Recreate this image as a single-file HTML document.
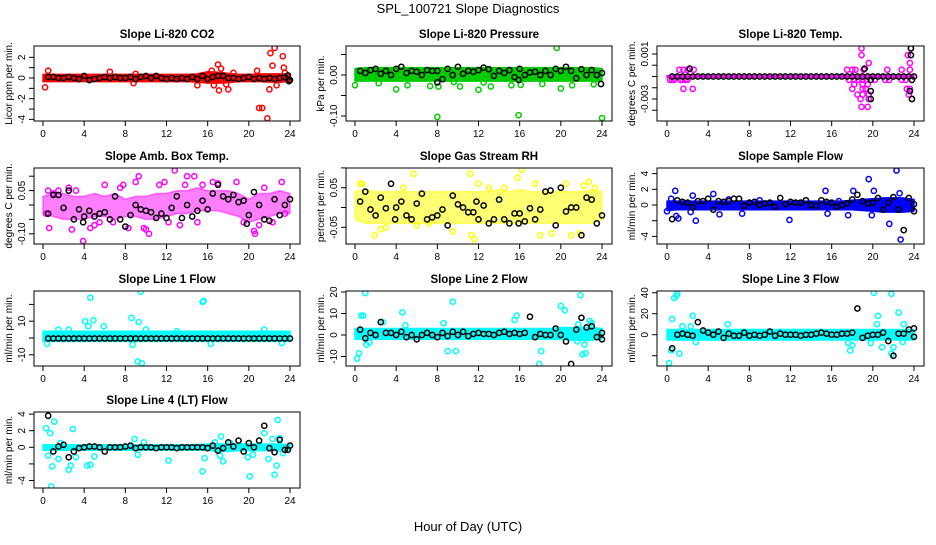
<!DOCTYPE html>
<html><head><meta charset="utf-8"><style>
body{margin:0;background:#fff;}
svg text{font-family:"Liberation Sans",sans-serif;}
</style></head><body>
<svg id="c" width="936" height="540" viewBox="0 0 936 540" xmlns="http://www.w3.org/2000/svg">
<text x="468" y="13" text-anchor="middle" font-size="13">SPL_100721  Slope Diagnostics</text>
<text x="468" y="531" text-anchor="middle" font-size="13">Hour of Day (UTC)</text>
</svg>
<script>
// ---- shared data ----
const xTicks = [0,4,8,12,16,20,24];
const blkHours = [0.5,1,1.5,2,2.5,3,3.5,4,4.5,5,5.5,6,6.5,7,7.5,8,8.5,9,9.5,10,10.5,11,11.5,12,12.5,13,13.5,14,14.5,15,15.5,16,16.5,17,17.5,18,18.5,19,19.5,20,20.5,21,21.5,22,22.5,23,23.5,24];
const bandHours = [0,1,2,3,4,5,6,7,8,9,10,11,12,13,14,15,16,17,18,19,20,21,22,23,24];

// ---- panel 1: CO2 ----
const co2BandLo = [-0.35,-0.35,-0.35,-0.35,-0.35,-0.35,-0.35,-0.35,-0.35,-0.35,-0.35,-0.35,-0.35,-0.35,-0.35,-0.4,-0.5,-0.5,-0.45,-0.35,-0.35,-0.35,-0.4,-0.4,-0.35];
const co2BandHi = [0.35,0.35,0.35,0.35,0.35,0.35,0.35,0.35,0.35,0.35,0.35,0.35,0.35,0.35,0.35,0.4,0.6,0.55,0.45,0.35,0.35,0.4,0.4,0.4,0.35];
const co2Out = [[0.2,-0.9],[0.5,0.7],[6.5,0.6],[8.8,-0.5],[9,0.4],[15,-0.7],[16.4,0.7],[16.6,-0.7],[17,1.3],[17.1,-1.2],[17.3,0.9],[17.8,-0.6],[18,-1.1],[18.5,0.5],[20.8,0.7],[21,-2.9],[21.3,-2.9],[21.8,-3.9],[22,-1.1],[22.1,2.4],[22.3,1.2],[22.5,2.9],[22.7,-0.7],[23.3,2.1],[23.4,1.0],[23.5,0.5]];
const co2Blk = [0.1,0.1,0,0,0.1,0,-0.1,0.2,-0.2,-0.1,0,0.1,0,0.1,0,0,0.1,-0.1,0.1,0.2,0,0.2,0,-0.1,0,-0.1,0,-0.1,0.1,-0.1,0.2,-0.1,0.1,0.2,0.2,0,0,-0.1,0,0.1,-0.1,0,-0.1,0,-0.1,0,0.1,-0.2];
const co2Extra = [[23.8,0.25],[23.9,-0.3]];

// ---- panel 2: Pressure ----
const presBandLo = [-0.015,-0.015,-0.015,-0.015,-0.015,-0.015,-0.015,-0.015,-0.015,-0.015,-0.015,-0.015,-0.015,-0.015,-0.015,-0.015,-0.015,-0.015,-0.015,-0.015,-0.015,-0.015,-0.015,-0.015,-0.015];
const presBandHi = [0.016,0.018,0.018,0.018,0.018,0.018,0.018,0.018,0.018,0.018,0.018,0.018,0.018,0.018,0.018,0.018,0.018,0.018,0.018,0.018,0.018,0.018,0.018,0.018,0.016];
const presOut = [[0,-0.025],[2.3,-0.02],[4,-0.035],[5.1,-0.025],[7.3,-0.027],[8,-0.102],[8.1,-0.028],[9.6,-0.017],[10.2,-0.028],[12,-0.036],[12.5,-0.018],[13.2,-0.028],[15.2,-0.025],[15.9,-0.098],[16.1,-0.024],[18.2,-0.022],[19.6,0.066],[20,-0.033],[21.1,-0.025],[23.2,-0.023],[24,-0.105]];
const presBlk = [0.01,0.005,0.012,0.015,0.003,0.01,0.0,0.015,0.02,0.005,0.01,0.008,0.0,0.012,0.01,0.01,-0.01,0.015,0.0,0.02,0.003,0.01,0.008,0.012,0.018,0.014,-0.002,0.01,0.005,0.012,-0.005,0.015,0.0,0.006,0.008,0.0,0.01,0.0,0.015,0.01,0.02,0.01,-0.008,0.014,0.0,0.012,0.0,0.005];
const presExtra = [[8,-0.018],[23.9,-0.022],[15.9,-0.012]];

// ---- panel 3: Temp ----
const tempBandLo = [-0.00108,-0.00108,-0.00108,-0.00108,-0.00108,-0.00108,-0.00108,-0.00108,-0.00108,-0.00108,-0.00108,-0.00108,-0.00108,-0.00108,-0.00108,-0.00108,-0.00108,-0.00108,-0.00108,-0.00108,-0.00108,-0.00108,-0.00108,-0.00108,-0.00108];
const tempBandHi = [-0.00092,-0.00092,-0.00092,-0.00092,-0.00092,-0.00092,-0.00092,-0.00092,-0.00092,-0.00092,-0.00092,-0.00092,-0.00092,-0.00092,-0.00092,-0.00092,-0.00092,-0.00092,-0.00092,-0.00092,-0.00092,-0.00092,-0.00092,-0.00092,-0.00092];
const tempOut = [[0.3,-0.0013],[0.5,-0.0013],[0.7,-0.0013],[1.3,-0.0013],[1.5,-0.0013],[1.8,-0.0013],[2.0,-0.0013],[1.2,-0.0004],[1.6,-0.0004],[2.0,-0.0004],[2.6,-0.0004],[1.6,-0.0021],[2.5,-0.0021],[17.5,-0.0004],[18,-0.0004],[18.3,-0.0004],[17.7,-0.0013],[18.2,-0.0013],[18.6,-0.0013],[19,-0.0013],[19.4,-0.0013],[18.2,-0.0017],[19,-0.0017],[19.5,-0.0017],[18.0,-0.0021],[19.0,-0.0021],[19.3,-0.0021],[18.5,-0.0026],[19,-0.0026],[19.6,-0.0026],[18.8,-0.0030],[19.6,-0.0030],[18.9,-0.0037],[19.5,-0.0037],[18.9,0.0015],[18.9,0.0009],[19.6,0.0002],[19.1,-0.0004],[20.2,-0.0013],[21.4,-0.0004],[21.2,-0.0013],[21.6,-0.0013],[22.8,-0.0013],[23.2,-0.0013],[23.3,-0.0021],[23.6,-0.0021],[23.5,-0.0026],[23.8,-0.0030],[23.4,0.0009],[23.6,0.0002],[23.6,-0.0004],[22.8,-0.0004],[23.7,0.0015]];
const tempBlk = [-0.001,-0.001,-0.001,-0.001,-0.001,-0.001,-0.001,-0.001,-0.001,-0.001,-0.001,-0.001,-0.001,-0.001,-0.001,-0.001,-0.001,-0.001,-0.001,-0.001,-0.001,-0.001,-0.001,-0.001,-0.001,-0.001,-0.001,-0.001,-0.001,-0.001,-0.001,-0.001,-0.001,-0.001,-0.001,-0.001,-0.001,-0.001,-0.001,-0.001,-0.001,-0.001,-0.001,-0.001,-0.001,-0.001,-0.001,-0.001];
const tempExtra = [[2.2,-0.0003],[18.7,-0.0052],[19.2,-0.0003],[19.8,-0.0013],[19.8,-0.0023],[19.8,-0.0030],[23.7,0.0015],[23.7,0.0009],[23.8,-0.0013],[23.6,-0.0023],[23.8,-0.003]];

// ---- panel 4: Amb box temp ----
const ambBandLo = [-0.03,-0.04,-0.05,-0.05,-0.05,-0.04,-0.04,-0.05,-0.04,-0.04,-0.05,-0.05,-0.04,-0.03,-0.03,-0.02,-0.02,-0.02,-0.03,-0.04,-0.06,-0.05,-0.04,-0.03,-0.03];
const ambBandHi = [0.03,0.04,0.04,0.03,0.03,0.04,0.03,0.04,0.02,0.03,0.03,0.04,0.04,0.05,0.05,0.06,0.05,0.05,0.05,0.04,0.02,0.04,0.04,0.05,0.04];
const ambOut = [[0.3,-0.03],[0.6,-0.08],[1,0.04],[2.8,-0.085],[3.2,0.05],[3.9,-0.125],[4.6,-0.08],[5,-0.07],[6,0.07],[6.8,-0.06],[7.8,0.07],[8.3,-0.08],[9,0.08],[9.3,0.1],[9.8,-0.08],[10,-0.085],[10.3,-0.1],[11.3,0.07],[11.8,0.08],[12.8,0.12],[13.3,-0.07],[13.8,0.07],[14,0.1],[14.7,0.1],[15.5,0.07],[16.5,0.08],[18.8,0.08],[20.5,-0.09],[20.6,-0.1],[21.5,0.06],[22.3,-0.06],[23.2,0.08],[23.5,-0.03],[0.5,0.05],[1.5,0.05],[2.5,0.06],[5.5,-0.06],[7.5,0.06],[12.2,-0.06],[15,-0.06],[17,0.075],[19.5,-0.06],[21,-0.07]];
const ambBlk = [-0.03,0.035,0.035,-0.01,0.05,-0.05,-0.015,-0.04,-0.02,-0.04,-0.03,-0.025,-0.05,0.03,-0.05,-0.075,-0.035,0.0,-0.015,-0.02,-0.025,-0.045,-0.03,-0.045,-0.01,0.03,-0.045,0.0,-0.04,-0.02,0.015,-0.015,0.04,0.07,0.03,0.02,0.035,0.01,0.015,-0.035,0.045,0.0,-0.05,-0.055,0.02,-0.035,0.0,0.02];
const ambExtra = [[3.9,-0.06],[19.8,-0.065]];

// ---- panel 5: Gas stream RH ----
const rhBandLo = [-0.03,-0.04,-0.04,-0.04,-0.04,-0.04,-0.04,-0.04,-0.04,-0.04,-0.04,-0.04,-0.04,-0.04,-0.04,-0.04,-0.04,-0.04,-0.04,-0.04,-0.04,-0.04,-0.04,-0.04,-0.03];
const rhBandHi = [0.04,0.045,0.04,0.04,0.04,0.04,0.04,0.04,0.04,0.04,0.04,0.04,0.04,0.04,0.045,0.04,0.045,0.04,0.04,0.04,0.04,0.04,0.04,0.045,0.04];
const rhOut = [[0.5,0.06],[0.7,0.06],[1.9,-0.07],[2.5,-0.055],[5.7,0.085],[4.7,0.05],[11.2,0.085],[11.3,-0.07],[11.6,-0.08],[12,0.06],[15.8,0.075],[16,-0.1],[16.2,0.095],[18,-0.07],[19.1,-0.065],[21,-0.07],[21.8,-0.065],[22.7,0.065],[22.2,0.055],[23.3,0.05],[14.5,0.05],[7.2,-0.04],[9.5,-0.06],[13,0.05],[20.5,0.06],[3,-0.05],[6,-0.045],[17.5,0.06]];
const rhBlk = [0.015,0.04,-0.005,-0.02,0.025,-0.002,0.06,0.0,0.015,-0.02,-0.03,0.01,0.035,-0.03,-0.025,-0.02,-0.005,-0.045,0.03,0.008,0.0,-0.012,-0.012,-0.03,0.005,-0.04,-0.03,0.02,-0.03,-0.04,-0.015,-0.015,-0.035,-0.002,-0.03,-0.005,0.04,0.043,-0.045,0.05,-0.01,0.0,0.0,-0.07,0.025,0.02,-0.04,-0.02];
const rhExtra = [[3.9,-0.03],[11.8,0.015],[15.9,-0.04]];

// ---- panel 6: Sample flow ----
const sfBandLo = [-0.7,-0.6,-0.6,-0.6,-0.6,-0.6,-0.6,-0.6,-0.6,-0.6,-0.6,-0.6,-0.6,-0.6,-0.6,-0.6,-0.6,-0.6,-0.6,-0.7,-0.8,-0.9,-0.9,-0.9,-0.8];
const sfBandHi = [0.5,0.5,0.5,0.5,0.5,0.5,0.5,0.5,0.5,0.5,0.5,0.5,0.5,0.5,0.5,0.5,0.5,0.5,0.6,0.7,0.8,0.9,0.9,0.9,0.7];
const sfOut = [[0,-0.8],[0.4,0.8],[0.8,1.8],[0.9,-1.4],[1.1,-1.7],[2.3,-0.9],[2.5,1.2],[2.8,-2.0],[4.5,1.4],[5.1,-1.2],[7.3,-1.1],[11.9,-1.9],[15.4,1.8],[15.6,-1.1],[17.6,-1.3],[18.1,1.8],[19.6,3.3],[19.9,-1.3],[20.1,1.8],[21.6,-2.4],[22.3,4.4],[22.6,1.5],[22.7,-4.4],[16.7,0.5],[9,0.6],[6,0.7]];
const sfBlk = [-1.8,0.6,0.4,0.3,-0.3,0.5,0.5,0.8,-0.6,0.5,0.4,0.5,0.8,0.8,-0.1,0.3,0.4,0,0.2,0.3,-0.2,0.9,0.1,0.4,0.3,0.3,0.6,0,-0.1,0.6,0.4,0.3,-0.2,0,0.2,0.7,1.3,0.5,0.2,0.3,0.9,-0.6,0.3,1.0,-0.6,-3.2,0.9,0.1];
const sfExtra = [[24,-0.8]];

// ---- panel 7: Line 1 flow ----
const l1BandLo = [-2,-2,-2,-2,-2,-2,-2,-2,-2,-2,-2,-2,-2,-2,-2,-2,-2,-2,-2,-2,-2,-2,-2,-2,-2];
const l1BandHi = [4,4,4,4,4,4,4,4,4,4,4,4,4,4,4,4,4,4,4,4,4,4,4,4,4];
const l1Out = [[0.4,-3.5],[4.1,10],[4.4,7],[4.6,24],[4.9,10.5],[5.9,7],[8.6,12],[8.7,-4],[9.2,-14],[9.3,9.5],[9.5,27.5],[9.6,-15],[15.5,21.5],[15.6,22],[16.3,-3.5],[13,4],[23.2,-3],[1.5,5],[2.5,5],[10,5],[21.5,5]];
const l1Blk = [-0.3,-0.3,-0.3,-0.3,-0.3,-0.3,-0.3,-0.3,-0.3,-0.3,-0.3,-0.3,-0.3,-0.3,-0.3,-0.3,-0.3,-0.3,-0.3,-0.3,-0.3,-0.3,-0.3,-0.3,-0.3,-0.3,-0.3,-0.3,-0.3,-0.3,-0.3,-0.3,-0.3,-0.3,-0.3,-0.3,-0.3,-0.3,-0.3,-0.3,-0.3,-0.3,-0.3,-0.3,-0.3,-0.3,-0.3,-0.3];
const l1Extra = [];

// ---- panel 8: Line 2 flow ----
const l2BandLo = [-2,-2,-2,-2,-2,-2,-2,-2,-2,-2,-2,-2,-2,-2,-2,-2,-2,-2,-2,-2,-2,-2.5,-2.5,-2.5,-2];
const l2BandHi = [3,3,3,3,3,3,3,3,3,3,3,3,3,3,3,3,3,3,3,3,3.5,3.5,3.5,3.5,3];
const l2Out = [[0.2,-11],[0.4,-8.5],[0.6,9],[0.8,9],[1,19.5],[1.1,-4.5],[1.4,-3.5],[2.7,6],[4.6,10.5],[4.9,4.5],[8.6,5.5],[9,-7.5],[9.5,15.5],[9.8,-7.5],[15.5,7],[15.7,9],[17.9,-13.5],[18.1,-7.5],[20,13.5],[20.4,11.5],[21.7,5],[21.9,18.5],[22.1,-9],[22.3,-4.5],[22.4,-8.5],[22.8,6.5],[23,5.5],[21.6,-3]];
const l2Blk = [2.5,-1.5,1,0,6,1,1,0,1.5,-1,0,-2,0,1,0,-1,1,-0.5,1.5,0,1.5,-0.5,0.5,1,0.5,0.5,0,1,1.5,0.5,1,0.5,1,8.5,-1,0.5,0,0,3,0,-3,-13.5,2.5,8,3.5,4,-1,1];
const l2Extra = [[24,-2]];

// ---- panel 9: Line 3 flow ----
const l3BandLo = [-5,-5,-5,-5,-5,-5,-5,-5,-5,-5,-5,-5,-5,-5,-5,-5,-5,-5,-5,-5,-5,-5,-5,-5,-5];
const l3BandHi = [5,5,5,5,5,5,5,5,5,5,5,5,5,5,5,5,5,5,5,5,5,5,5,5,5];
const l3Out = [[0.2,-27],[0.4,-15],[0.5,15],[0.7,35],[0.9,37],[1,39],[1.2,-18],[2.5,18],[2.8,-7],[5.9,10],[17.6,-8],[17.8,-15],[18,-10],[19.8,-8],[20.1,40],[20.4,10],[20.5,18],[20.9,-12],[21.8,39],[21.8,-18],[22,-12],[22.5,21],[22.9,-7],[23,10],[1.5,8],[2.3,8]];
const l3Blk = [-13,0,1,0,-1,12,4,2,0,3,-3,1,-1,-1,2,-1,0,-1,0,3,-1,1,0,0,0,-1,0,0,1,2,1,0,0,1,1,2,25,-3,-1,0,0,2,-6,-20,1,1,5,6];
const l3Extra = [[24,-2]];

// ---- panel 10: Line 4 flow ----
const l4BandLo = [-0.35,-0.35,-0.35,-0.35,-0.35,-0.35,-0.35,-0.35,-0.35,-0.35,-0.35,-0.35,-0.35,-0.35,-0.35,-0.35,-0.35,-0.5,-0.5,-0.4,-0.4,-0.4,-0.4,-0.4,-0.35];
const l4BandHi = [0.3,0.3,0.3,0.3,0.3,0.3,0.3,0.3,0.3,0.3,0.3,0.3,0.3,0.3,0.3,0.3,0.4,0.4,0.4,0.4,0.4,0.4,0.4,0.4,0.3];
const l4Out = [[0.3,2.3],[0.5,-1.0],[0.7,1.7],[0.8,-4.7],[0.9,-2.3],[1.1,3.1],[1.5,-1.4],[1.7,0.5],[2.5,-2.7],[2.7,-2.2],[2.9,2.2],[3.2,-1.2],[4.3,-2.2],[4.6,-2.1],[5,-1.1],[8.9,1.0],[9.2,-0.9],[9.8,0.6],[12.2,-1.6],[15.5,-2.9],[15.7,-1.3],[16.7,0.6],[17.2,-1.0],[17.3,1.3],[17.5,-1.7],[18.2,0.5],[19.9,-1.2],[20.1,-3.5],[20.4,-0.9],[21.5,1.7],[21.9,-1.4],[22.3,1.0],[22.5,-3.3],[22.7,-2.2],[22.8,3.3],[23,1.1],[23.3,-0.7]];
const l4Blk = [3.8,-0.5,0.1,0.3,-1.2,-0.5,-0.1,0,0.1,0.1,0,-0.5,0,0,0,0.1,0.2,-0.1,0,0,0,-0.1,0,0,0,-0.1,0,0,0,0,0,-0.1,0.2,-0.4,-0.1,0.6,0.1,0.8,-0.5,0.5,0,0.8,2.6,-0.1,-0.6,0.9,-0.3,0.2];
const l4Extra = [[23.8,-0.3]];

// ---- tick values/labels per panel ----
const co2YTicks=[2,1,0,-1,-2,-3,-4], co2YLabels=["2","","0","","-2","","-4"];
const presYTicks=[0.05,0,-0.05,-0.1], presYLabels=["","0.00","","-0.10"];
const tempYTicks=[0.001,0,-0.001,-0.002,-0.003,-0.004], tempYLabels=["0.001","","","","-0.003",""];
const ambYTicks=[0.1,0.05,0,-0.05,-0.1], ambYLabels=["","0.05","","","-0.10"];
const rhYTicks=[0.1,0.05,0,-0.05], rhYLabels=["","0.05","","-0.05"];
const sfYTicks=[4,2,0,-2,-4], sfYLabels=["4","2","0","","-4"];
const l1YTicks=[20,10,0,-10], l1YLabels=["","10","","-10"];
const l2YTicks=[20,10,0,-10], l2YLabels=["20","10","0","-10"];
const l3YTicks=[40,20,0,-20], l3YLabels=["40","20","0",""];
const l4YTicks=[4,2,0,-2,-4], l4YLabels=["4","2","0","","-4"];

// ---- layout (not data) ----
const NS="http://www.w3.org/2000/svg";
const svg=document.getElementById('c');
const cols=[{x0:34,x1:300,h0:43,h24:290},{x0:346,x1:612,h0:355,h24:602},{x0:657,x1:924,h0:667,h24:914}];
const rows=[{y0:46,y1:121},{y0:168,y1:244},{y0:291,y1:366},{y0:412,y1:488}];

function mk(tag,attrs){const e=document.createElementNS(NS,tag);for(const k in attrs)e.setAttribute(k,attrs[k]);return e;}

function panel(name,title,ylab,col,row,col3,fillOp,vA,yA,vB,yB,yTicks,yLabels,bandLo,bandHi,out,blk,extra){
  const C=cols[col],R=rows[row];
  const g=mk('g',{});
  
  
  svg.appendChild(g);
  const xs=h=>C.h0+(h/24)*(C.h24-C.h0);
  const ys=v=>yA+(v-vA)*(yB-yA)/(vB-vA);
  const cid='clip-'+name;
  const cp=mk('clipPath',{id:cid});cp.appendChild(mk('rect',{x:C.x0,y:R.y0,width:C.x1-C.x0,height:R.y1-R.y0}));g.appendChild(cp);
  const pg=mk('g',{'clip-path':'url(#'+cid+')'});g.appendChild(pg);
  let pts=[];
  for(let i=0;i<bandHours.length;i++)pts.push(xs(bandHours[i])+','+ys(bandHi[i]));
  for(let i=bandHours.length-1;i>=0;i--)pts.push(xs(bandHours[i])+','+ys(bandLo[i]));
  const band=mk('polygon',{points:pts.join(' '),fill:col3,'fill-opacity':fillOp,stroke:col3,'stroke-width':1.5,'stroke-opacity':fillOp,'stroke-linejoin':'round'});
  
  
  pg.appendChild(band);
  out.forEach(p=>{
    const c=mk('circle',{cx:xs(p[0]),cy:ys(p[1]),r:2.6,fill:'none',stroke:col3,'stroke-width':1.5});
    
    
    pg.appendChild(c);
  });
  const blkPts=blkHours.map((h,i)=>[h,blk[i]]).concat(extra);
  blkPts.forEach(p=>{
    const c=mk('circle',{cx:xs(p[0]),cy:ys(p[1]),r:2.6,fill:'none',stroke:'#000','stroke-width':1.5});
    
    
    pg.appendChild(c);
  });
  const box=mk('rect',{x:C.x0,y:R.y0,width:C.x1-C.x0,height:R.y1-R.y0,fill:'none',stroke:'#000','stroke-width':1});
  
  
  g.appendChild(box);
  const t=mk('text',{x:(C.x0+C.x1)/2,y:R.y0-8,'text-anchor':'middle','font-size':11.5,'font-weight':'bold'});
  t.textContent=title;
  
  
  g.appendChild(t);
  xTicks.forEach(h=>{
    const x=xs(h);
    g.appendChild(mk('line',{x1:x,y1:R.y1,x2:x,y2:R.y1+5,stroke:'#000'}));
    const tl=mk('text',{x:x,y:R.y1+16,'text-anchor':'middle','font-size':10});
    tl.textContent=h;
    
    
    g.appendChild(tl);
  });
  yTicks.forEach((v,i)=>{
    const y=ys(v);
    if(y<R.y0-2||y>R.y1+2)return;
    g.appendChild(mk('line',{x1:C.x0-5,y1:y,x2:C.x0,y2:y,stroke:'#000'}));
    if(yLabels[i]){
      const tl=mk('text',{x:C.x0-9,y:y,'text-anchor':'middle','font-size':10,transform:'rotate(-90 '+(C.x0-9)+' '+y+')'});
      tl.textContent=yLabels[i];
      
      
      g.appendChild(tl);
    }
  });
  const yc=(R.y0+R.y1)/2, yx=C.x0-22;
  const yl=mk('text',{x:yx,y:yc,'text-anchor':'middle','font-size':10,transform:'rotate(-90 '+yx+' '+yc+')'});
  yl.textContent=ylab;
  
  
  g.appendChild(yl);
}

panel('co2','Slope Li-820 CO2','Licor ppm per min.',0,0,'#ff0000',1,0,78,2,57.3,co2YTicks,co2YLabels,co2BandLo,co2BandHi,co2Out,co2Blk,co2Extra);
panel('pressure','Slope Li-820 Pressure','kPa per min.',1,0,'#00cc00',1,0,75,-0.1,116,presYTicks,presYLabels,presBandLo,presBandHi,presOut,presBlk,presExtra);
panel('temp','Slope Li-820 Temp.','degrees C per min.',2,0,'#ff00ff',1,0.001,54,-0.003,99,tempYTicks,tempYLabels,tempBandLo,tempBandHi,tempOut,tempBlk,tempExtra);
panel('amb-box-temp','Slope Amb. Box Temp.','degrees C per min.',0,1,'#ff00ff',0.5,0,205,0.05,190.6,ambYTicks,ambYLabels,ambBandLo,ambBandHi,ambOut,ambBlk,ambExtra);
panel('gas-rh','Slope Gas Stream RH','percent per min.',1,1,'#ffff00',0.55,0,207.5,0.05,187.7,rhYTicks,rhYLabels,rhBandLo,rhBandHi,rhOut,rhBlk,rhExtra);
panel('sample-flow','Slope Sample Flow','ml/min per min.',2,1,'#0000ff',1,0,205,2,189.3,sfYTicks,sfYLabels,sfBandLo,sfBandHi,sfOut,sfBlk,sfExtra);
panel('line1-flow','Slope Line 1 Flow','ml/min per min.',0,2,'#00ffff',1,0,338,10,321.2,l1YTicks,l1YLabels,l1BandLo,l1BandHi,l1Out,l1Blk,l1Extra);
panel('line2-flow','Slope Line 2 Flow','ml/min per min.',1,2,'#00ffff',1,0,335,10,313.5,l2YTicks,l2YLabels,l2BandLo,l2BandHi,l2Out,l2Blk,l2Extra);
panel('line3-flow','Slope Line 3 Flow','ml/min per min.',2,2,'#00ffff',1,0,334.7,20,313.7,l3YTicks,l3YLabels,l3BandLo,l3BandHi,l3Out,l3Blk,l3Extra);
panel('line4-flow','Slope Line 4 (LT) Flow','ml/min per min.',0,3,'#00ffff',1,0,447.3,2,430.7,l4YTicks,l4YLabels,l4BandLo,l4BandHi,l4Out,l4Blk,l4Extra);
</script>
</body></html>
